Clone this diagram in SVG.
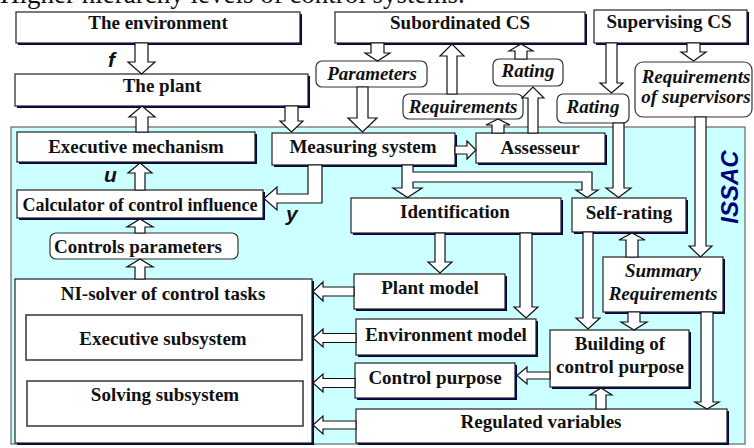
<svg xmlns="http://www.w3.org/2000/svg" width="754" height="448" viewBox="0 0 754 448">
<style>
.bg{fill:#ffffff}
.area{fill:#ccffff;stroke:#666;stroke-width:1.2}
.box{fill:#fff;stroke:#222;stroke-width:1.2}
.sh{fill:#000050}
.rbox{fill:#fff;stroke:#333;stroke-width:1.2}
.arr{fill:#fff;stroke:#111;stroke-width:1.2;stroke-linejoin:miter}
.t{font-family:"Liberation Serif","Times New Roman",serif;font-weight:bold;font-size:19px;text-anchor:middle;fill:#111}
.ti{font-family:"Liberation Serif","Times New Roman",serif;font-weight:bold;font-style:italic;font-size:19px;text-anchor:middle;fill:#111}
.v{font-family:"Liberation Sans",Arial,sans-serif;font-weight:bold;font-style:italic;font-size:21px;fill:#111}
.title{font-family:"Liberation Serif","Times New Roman",serif;font-size:27px;fill:#111}
</style>
<rect class="bg" x="0" y="0" width="754" height="448"/>
<text class="title" x="0" y="3">Higher hierarchy levels of control systems.</text>

<g id="issac">
<rect class="area" x="11" y="127" width="734" height="317"/>
<text transform="translate(738,187) rotate(-90)" style="font-family:'Liberation Sans',Arial,sans-serif;font-weight:bold;font-style:italic;font-size:24px;fill:#000080;text-anchor:middle">ISSAC</text>
</g>

<g id="environment"><rect class="sh" x="18" y="14" width="284" height="31"/><rect class="box" x="16" y="12" width="284" height="31"/><text class="t" x="158" y="29">The environment</text></g>
<g id="plant"><rect class="sh" x="17" y="76" width="293" height="32"/><rect class="box" x="15" y="74" width="293" height="32"/><text class="t" x="162" y="92">The plant</text></g>
<g id="subordinated"><rect class="sh" x="337" y="14" width="250" height="31"/><rect class="box" x="335" y="12" width="250" height="31"/><text class="t" x="460" y="29">Subordinated CS</text></g>
<g id="supervising"><rect class="sh" x="596" y="12" width="153" height="33"/><rect class="box" x="594" y="10" width="153" height="33"/><text class="t" x="669" y="28">Supervising CS</text></g>

<g id="parameters"><rect class="rbox" x="316" y="61" width="111" height="26" rx="6"/><text class="ti" x="372" y="80">Parameters</text></g>
<g id="requirements"><rect class="rbox" x="403" y="94" width="120" height="25" rx="6"/><text class="ti" x="463" y="113">Requirements</text></g>
<g id="rating1"><rect class="rbox" x="493" y="59" width="70" height="27" rx="6"/><text class="ti" x="528" y="77">Rating</text></g>
<g id="rating2"><rect class="rbox" x="557" y="94" width="72" height="29" rx="6"/><text class="ti" x="593" y="113">Rating</text></g>
<g id="reqsup"><rect class="rbox" x="635" y="62" width="117" height="55" rx="8"/><text class="ti" x="696" y="83">Requirements</text><text class="ti" x="696" y="103">of supervisors</text></g>

<g id="exec"><rect class="sh" x="19" y="134" width="238" height="30"/><rect class="box" x="17" y="132" width="238" height="30"/><text class="t" x="136" y="153">Executive mechanism</text></g>
<g id="measuring"><rect class="sh" x="274" y="135" width="183" height="32"/><rect class="box" x="272" y="133" width="183" height="32"/><text class="t" x="363" y="153">Measuring system</text></g>
<g id="assesseur"><rect class="sh" x="478" y="135" width="129" height="30"/><rect class="box" x="476" y="133" width="129" height="30"/><text class="t" x="540" y="154">Assesseur</text></g>
<g id="calculator"><rect class="sh" x="19" y="192" width="246" height="28"/><rect class="box" x="17" y="190" width="246" height="28"/><text class="t" x="140" y="211" style="font-size:18px">Calculator of control influence</text></g>
<g id="identification"><rect class="sh" x="353" y="200" width="210" height="35"/><rect class="box" x="351" y="198" width="210" height="35"/><text class="t" x="455" y="218">Identification</text></g>
<g id="selfrating"><rect class="sh" x="574" y="200" width="114" height="34"/><rect class="box" x="572" y="198" width="114" height="34"/><text class="t" x="629" y="219">Self-rating</text></g>
<g id="controls"><rect class="rbox" x="50" y="233" width="188" height="26" rx="6"/><text class="t" x="138" y="253">Controls parameters</text></g>

<g id="nisolver"><rect class="sh" x="17" y="281" width="297" height="164"/><rect class="box" x="15" y="279" width="297" height="164"/><text class="t" x="163" y="300">NI-solver of control tasks</text>
<rect class="box" x="26" y="315" width="276" height="45" style="stroke:#333;stroke-width:1.5"/><text class="t" x="163" y="345">Executive subsystem</text>
<rect class="box" x="27" y="381" width="276" height="45" style="stroke:#333;stroke-width:1.5"/><text class="t" x="165" y="401">Solving subsystem</text></g>

<g id="plantmodel"><rect class="sh" x="356" y="276" width="151" height="35"/><rect class="box" x="354" y="274" width="151" height="35"/><text class="t" x="430" y="294">Plant model</text></g>
<g id="envmodel"><rect class="sh" x="358" y="321" width="180" height="36"/><rect class="box" x="356" y="319" width="180" height="36"/><text class="t" x="446" y="341">Environment model</text></g>
<g id="purpose"><rect class="sh" x="357" y="365" width="160" height="35"/><rect class="box" x="355" y="363" width="160" height="35"/><text class="t" x="435" y="384">Control purpose</text></g>
<g id="regulated"><rect class="sh" x="358" y="411" width="371" height="34"/><rect class="box" x="356" y="409" width="371" height="34"/><text class="t" x="541" y="428">Regulated variables</text></g>
<g id="building"><rect class="sh" x="552" y="332" width="139" height="57"/><rect class="box" x="550" y="330" width="139" height="57"/><text class="t" x="620" y="350">Building of</text><text class="t" x="620" y="373">control purpose</text></g>
<g id="summary"><rect class="sh" x="605" y="259" width="120" height="55"/><rect class="box" x="603" y="257" width="120" height="55"/><text class="ti" x="663" y="277">Summary</text><text class="ti" x="663" y="300">Requirements</text></g>

<g id="connectors">
<polygon class="arr" points="135,43 148,43 148,62 155,62 141.5,74 128,62 135,62"/>
<polygon class="arr" points="136,132 148,132 148,117 155,117 142,106 129,117 136,117"/>
<polygon class="arr" points="285,106 298,106 298,121 303,121 291.5,132 280,121 285,121"/>
<polygon class="arr" points="135,190 145,190 145,173 152,173 140,163 128,173 135,173"/>
<polygon class="arr" points="135,233 145,233 145,227 153,227 140,219 127,227 135,227"/>
<polygon class="arr" points="135,279 145,279 145,267 153,267 140,259 127,267 135,267"/>
<polygon class="arr" points="308,165 322,165 322,203 277,203 277,210 264,198.5 277,187 277,194 308,194"/>
<polygon class="arr" points="455,146 467,146 467,141 476,150 467,159 467,154 455,154"/>
<polygon class="arr" points="402,165 413,165 413,172 592,172 592,190 598,190 587,197.5 576,190 582,190 582,182 413,182 413,188 422,188 407.5,197.5 393,188 402,188"/>
<polygon class="arr" points="357,87 368,87 368,118 377,118 362.5,132 348,118 357,118"/>
<polygon class="arr" points="371,43 384,43 384,53 390,53 377.5,61 365,53 371,53"/>
<polygon class="arr" points="447,94 457,94 457,56 464,56 452,44 440,56 447,56"/>
<polygon class="arr" points="492,133 504,133 504,125 510,125 498,119 486,125 492,125"/>
<polygon class="arr" points="528,133 538,133 538,98 544,98 533,87 522,98 528,98"/>
<polygon class="arr" points="515,59 527,59 527,51 533,51 521,44 509,51 515,51"/>
<polygon class="arr" points="606,43 617,43 617,83 623,83 611.5,93 600,83 606,83"/>
<polygon class="arr" points="687,43 700,43 700,52 706,52 693.5,61 681,52 687,52"/>
<polygon class="arr" points="695,117 706,117 706,246 712,246 700.5,257 689,246 695,246"/>
<polygon class="arr" points="613,123 624,123 624,188 631,188 618.5,197.5 606,188 613,188"/>
<polygon class="arr" points="626,257 638,257 638,240 645,240 632,233 619,240 626,240"/>
<polygon class="arr" points="583,232 593,232 593,318 600,318 588,329 576,318 583,318"/>
<polygon class="arr" points="628,312 640,312 640,322 647,322 634,330 621,322 628,322"/>
<polygon class="arr" points="701,312 713,312 713,402 719,402 707,409 695,402 701,402"/>
<polygon class="arr" points="596,409 606,409 606,395 612,395 601,388 590,395 596,395"/>
<polygon class="arr" points="550,372 527,372 527,367 517,375.5 527,384 527,379 550,379"/>
<polygon class="arr" points="435,233 445,233 445,262 452,262 440,273 428,262 435,262"/>
<polygon class="arr" points="520,233 532,233 532,307 538,307 526,318 514,307 520,307"/>
<polygon class="arr" points="354,287 323,287 323,282 313,291.5 323,301 323,296 354,296"/>
<polygon class="arr" points="356,333.5 323,333.5 323,329 313,338 323,347 323,342.5 356,342.5"/>
<polygon class="arr" points="355,378.5 323,378.5 323,374 313,383 323,392 323,387.5 355,387.5"/>
<polygon class="arr" points="356,421 323,421 323,416 313,425 323,434 323,429 356,429"/>
<text class="v" x="108" y="67">f</text>
<text class="v" x="104" y="182">u</text>
<text class="v" x="286" y="221">y</text>
</g>
</svg>
